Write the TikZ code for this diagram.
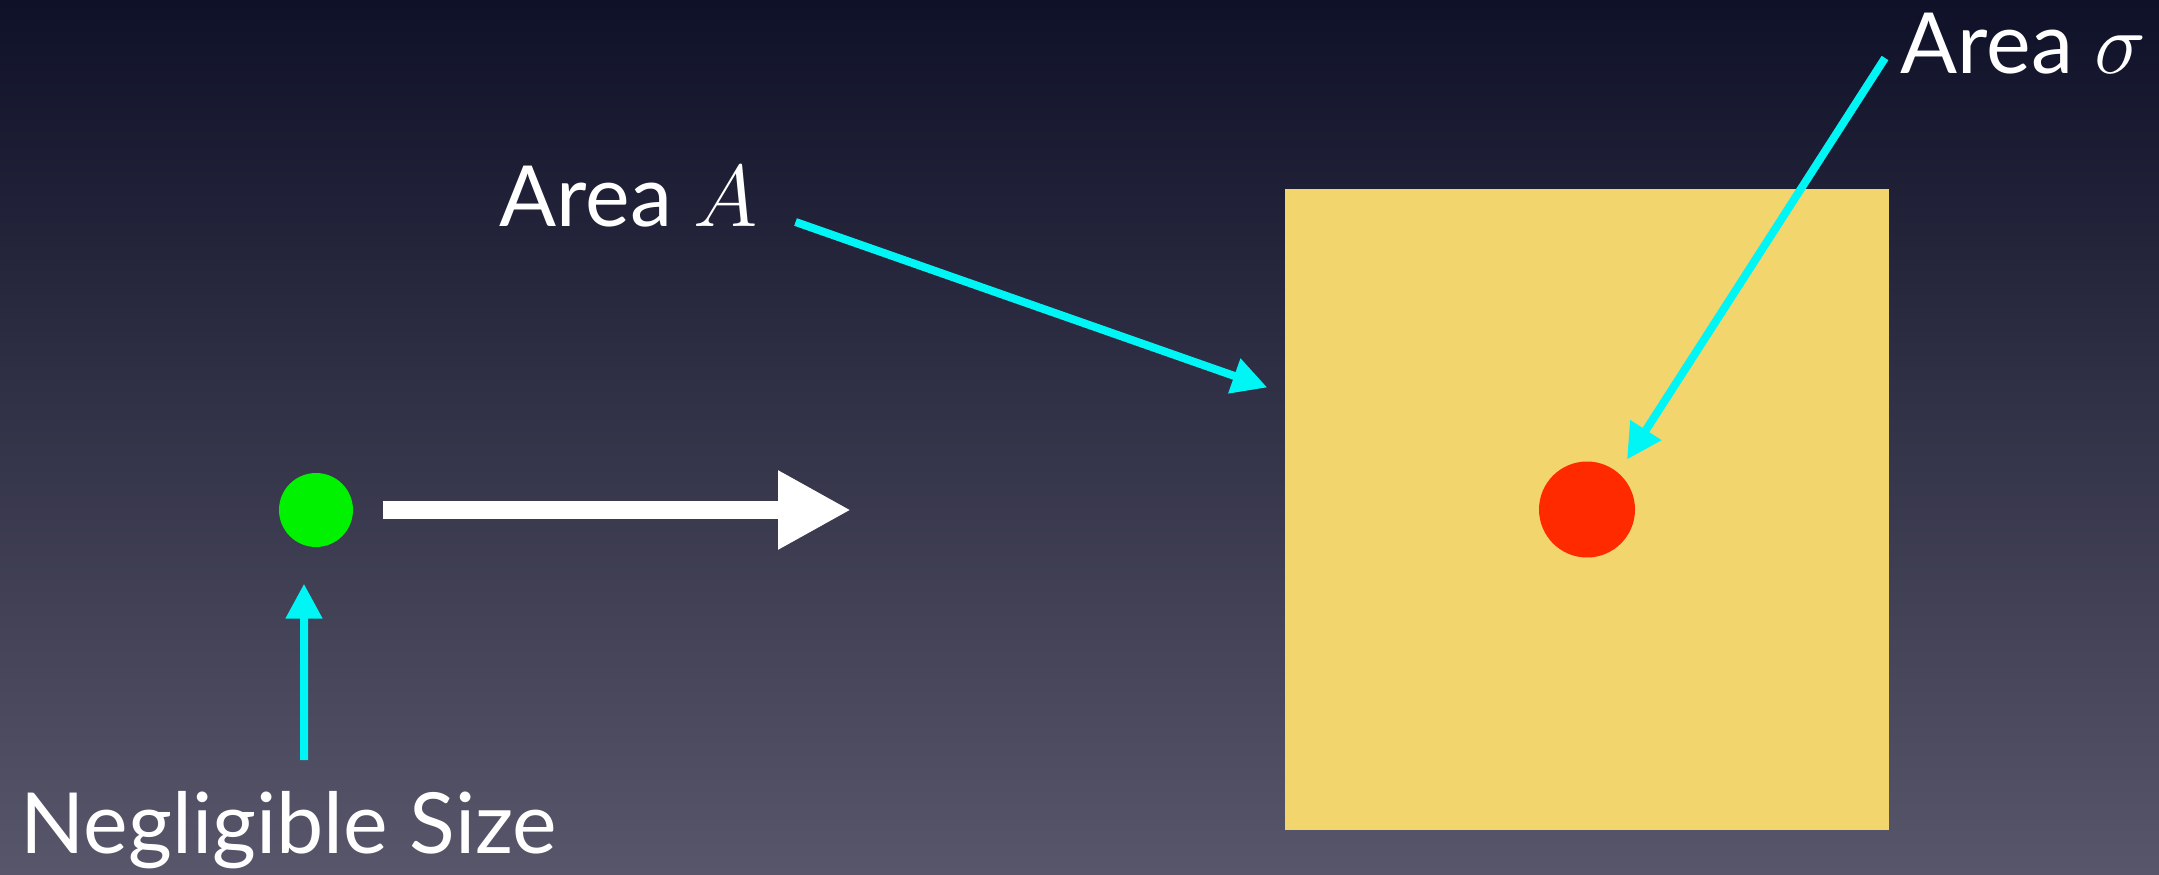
\documentclass[tikz,border=0pt]{standalone}
\usepackage{fontspec}
\setmainfont{Lato}
\usetikzlibrary{arrows.meta}
\definecolor{bgtop}{HTML}{0F1128}
\definecolor{bgbot}{HTML}{58566A}
\definecolor{paper}{HTML}{F3D56E}
\definecolor{spotred}{HTML}{FF2A00}
\definecolor{dotgreen}{HTML}{00F200}
\definecolor{pointer}{HTML}{00F5F5}

\begin{document}
\begin{tikzpicture}[text=white,>=Latex,
    label/.style={font=\fontsize{24}{28}\selectfont,inner sep=0pt,anchor=base west},
    pointer/.style={draw=pointer,line width=0.08cm,-{Triangle[length=0.35cm,width=0.35cm]}}]
  \useasboundingbox (0,0) rectangle (21.59,8.74);
  \shade[top color=bgtop,bottom color=bgbot] (0,0) rectangle (21.59,8.74);
  % target sheet with its small cross-section
  \node[fill=paper,minimum width=6.04cm,minimum height=6.41cm,inner sep=0pt] (target) at (15.87,3.645) {};
  \node[circle,fill=spotred,minimum size=0.96cm,inner sep=0pt] (spot) at (target.center) {};
  % incoming point particle
  \node[circle,fill=dotgreen,minimum size=0.74cm,inner sep=0pt] (dot) at (3.16,3.64) {};
  \coordinate (beam) at (8.51,3.64);
  \draw[white,line width=0.18cm,-{Triangle[length=0.73cm,width=0.74cm]}] ([xshift=0.29cm]dot.east) -- (beam);
  % labels
  \node[label] (areaA) at (4.99,6.47) {Area $A$};
  \node[label] (areaS) at (19.00,8.00) {Area $\sigma$};
  \node[label] (small) at (0.20,0.21) {Negligible Size};
  \coordinate (foot) at (3.04,1.14);
  \draw[pointer] ([xshift=0.37cm,yshift=0.05cm]areaA.base east) -- ([xshift=-0.17cm,yshift=1.22cm]target.west);
  \draw[pointer] ([xshift=-0.15cm,yshift=0.16cm]areaS.base west) -- ([shift={(0.40,0.50)}]spot.center);
  \draw[pointer] (foot) -- ([xshift=-0.12cm,yshift=-0.36cm]dot.south);
\end{tikzpicture}
\end{document}
